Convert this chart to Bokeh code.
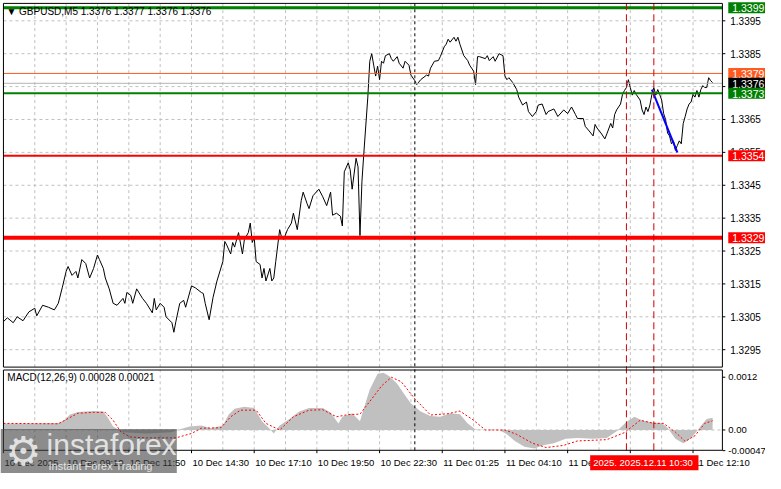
from bokeh.plotting import figure
from bokeh.models import Range1d, Label, BoxAnnotation
from bokeh.core.properties import value
from bokeh.embed import file_html
from bokeh.resources import INLINE

# ---------------- data ----------------
bar_idx = [0, 2, 5, 7, 10, 13, 16, 17, 20, 23, 26, 28, 30, 32, 33, 35, 37, 38, 40, 42, 44, 46, 48, 49,
           51, 52, 54, 56, 58, 61, 62, 63, 65, 66, 68, 71, 73, 76, 77, 78, 80, 82, 83, 86, 87, 88, 90,
           92, 93, 96, 98, 101, 102, 103, 105, 107, 109, 112, 113, 114, 116, 117, 118, 120, 122, 123,
           125, 126, 127, 128, 129, 131, 132, 133, 134, 136, 137, 138, 139, 141, 142, 143, 145, 147,
           148, 150, 152, 153, 155, 156, 158, 161, 163, 165, 167, 168, 170, 172, 173, 174, 176, 177,
           178, 180, 181, 182, 183, 184, 186, 187, 188, 189, 190, 191, 192, 193, 194, 195, 197, 198,
           199, 201, 202, 204, 205, 207, 208, 210, 211, 213, 216, 217, 218, 220, 222, 223, 225, 226,
           227, 228, 230, 231, 232, 233, 235, 237, 238, 240, 241, 242, 243, 246, 247, 248, 250, 251,
           253, 255, 256, 257, 258, 260, 262, 263, 265, 267, 268, 270, 272, 273, 275, 277, 278, 281,
           283, 286, 288, 290, 292, 293, 296, 297, 299, 301, 302, 303, 305, 307, 308, 310, 311, 312,
           313, 315, 316, 317, 318, 319, 320, 321, 322, 323, 325, 326, 327, 328, 329, 330, 331, 332,
           333, 334, 335, 336, 337, 338, 339, 340, 341, 342, 343, 344, 345, 346, 347, 348, 349, 350,
           351, 352, 353, 354, 355, 356, 357, 358, 359, 360, 361, 362]
close = [1.33035, 1.33047, 1.33032, 1.33050, 1.33038, 1.33065, 1.33076, 1.33053, 1.33085, 1.33079,
         1.33071, 1.33091, 1.33138, 1.33188, 1.33203, 1.33176, 1.33188, 1.33168, 1.33224, 1.33212,
         1.33168, 1.33197, 1.33238, 1.33224, 1.33197, 1.33168, 1.33135, 1.33091, 1.33085, 1.33106,
         1.33091, 1.33124, 1.33115, 1.33091, 1.33135, 1.33106, 1.33091, 1.33062, 1.33106, 1.33071,
         1.33091, 1.33079, 1.33050, 1.33032, 1.33003, 1.33035, 1.33091, 1.33100, 1.33079, 1.33144,
         1.33138, 1.33124, 1.33121, 1.33091, 1.33041, 1.33109, 1.33159, 1.33218, 1.33279, 1.33268,
         1.33241, 1.33276, 1.33262, 1.33306, 1.33241, 1.33285, 1.33306, 1.33335, 1.33276, 1.33291,
         1.33218, 1.33209, 1.33168, 1.33197, 1.33159, 1.33197, 1.33159, 1.33168, 1.33218, 1.33315,
         1.33291, 1.33285, 1.33315, 1.33335, 1.33365, 1.33315, 1.33403, 1.33429, 1.33394, 1.33379,
         1.33418, 1.33438, 1.33415, 1.33388, 1.33429, 1.33359, 1.33365, 1.33356, 1.33326, 1.33491,
         1.33518, 1.33497, 1.33438, 1.33532, 1.33506, 1.33297, 1.33462, 1.33550, 1.33718, 1.33827,
         1.33850, 1.33815, 1.33782, 1.33812, 1.33771, 1.33827, 1.33821, 1.33844, 1.33850, 1.33835,
         1.33827, 1.33841, 1.33821, 1.33806, 1.33827, 1.33815, 1.33785, 1.33768, 1.33756, 1.33771,
         1.33785, 1.33782, 1.33806, 1.33827, 1.33829, 1.33841, 1.33871, 1.33879, 1.33894, 1.33885,
         1.33900, 1.33888, 1.33900, 1.33879, 1.33844, 1.33829, 1.33815, 1.33797, 1.33756, 1.33841,
         1.33841, 1.33835, 1.33844, 1.33829, 1.33841, 1.33827, 1.33850, 1.33844, 1.33782, 1.33771,
         1.33777, 1.33762, 1.33741, 1.33718, 1.33694, 1.33703, 1.33674, 1.33659, 1.33674, 1.33694,
         1.33697, 1.33665, 1.33674, 1.33682, 1.33659, 1.33679, 1.33668, 1.33688, 1.33665, 1.33653,
         1.33653, 1.33629, 1.33615, 1.33600, 1.33635, 1.33624, 1.33609, 1.33591, 1.33606, 1.33638,
         1.33624, 1.33665, 1.33679, 1.33697, 1.33726, 1.33738, 1.33747, 1.33771, 1.33747, 1.33724,
         1.33738, 1.33726, 1.33709, 1.33679, 1.33665, 1.33688, 1.33674, 1.33694, 1.33726, 1.33747,
         1.33724, 1.33741, 1.33726, 1.33709, 1.33668, 1.33650, 1.33609, 1.33600, 1.33576, 1.33585,
         1.33556, 1.33571, 1.33585, 1.33576, 1.33638, 1.33659, 1.33682, 1.33697, 1.33703, 1.33726,
         1.33718, 1.33738, 1.33718, 1.33741, 1.33753, 1.33747, 1.33747, 1.33777, 1.33768, 1.33762]

macd_bars = [0, 13, 28, 31, 34, 38, 46, 51, 53, 56, 61, 73, 86, 91, 95, 101, 106, 112, 115, 118,
             123, 128, 132, 136, 138, 141, 146, 151, 156, 163, 167, 171, 173, 178, 182, 184, 187,
             191, 194, 197, 201, 204, 208, 213, 218, 223, 228, 233, 237, 241, 248, 253, 257, 261,
             266, 271, 276, 281, 287, 293, 301, 308, 313, 318, 322, 326, 331, 336, 339, 343, 347,
             350, 353, 357, 359, 362]
macd_vals = [0.00015, 0.00015, 0.00016, 0.00022, 0.00035, 0.00041, 0.00043, 0.00042, 0.00030,
             0.00008, -0.00005, -0.00008, -0.00005, 0.00003, 0.00008, 0.00010, 0.00004, 0.00010,
             0.00035, 0.00048, 0.00053, 0.00050, 0.00020, 0.00002, -0.00008, 0.00010, 0.00025,
             0.00042, 0.00050, 0.00050, 0.00040, 0.00015, 0.00030, 0.00038, 0.00020, 0.00050,
             0.00092, 0.00128, 0.00130, 0.00122, 0.00105, 0.00085, 0.00060, 0.00042, 0.00032,
             0.00030, 0.00038, 0.00036, 0.00015, 0.00001, 0.00000, 0.00000, -0.00010, -0.00025,
             -0.00038, -0.00042, -0.00034, -0.00030, -0.00020, -0.00018, -0.00020, -0.00018,
             -0.00003, 0.00018, 0.00030, 0.00022, 0.00017, 0.00016, 0.00005, -0.00020, -0.00030,
             -0.00022, -0.00008, 0.00015, 0.00025, 0.00028]

signal_bars = [0, 28, 33, 38, 46, 52, 56, 60, 65, 73, 88, 96, 101, 111, 116, 121, 129, 134, 141,
               148, 156, 163, 170, 176, 182, 187, 193, 198, 203, 210, 218, 227, 233, 240, 246, 256,
               262, 270, 277, 286, 293, 308, 317, 325, 332, 337, 343, 348, 353, 358, 362]
signal_vals = [0.00015, 0.00014, 0.00026, 0.00038, 0.00040, 0.00040, 0.00022, -0.00005, -0.00016,
               -0.00018, -0.00018, -0.00008, 0.00004, 0.00005, 0.00030, 0.00045, 0.00045, 0.00015,
               0.00000, 0.00030, 0.00045, 0.00046, 0.00030, 0.00035, 0.00036, 0.00065, 0.00100,
               0.00120, 0.00110, 0.00071, 0.00034, 0.00037, 0.00043, 0.00022, 0.00000, 0.00000,
               -0.00010, -0.00030, -0.00040, -0.00035, -0.00025, -0.00022, -0.00006, 0.00022,
               0.00015, 0.00015, -0.00005, -0.00026, -0.00013, 0.00015, 0.00021]

trend_bars = [331, 344]
trend_prices = [1.33741, 1.33550]

price_ticks = [1.3295, 1.3305, 1.3315, 1.3325, 1.3335, 1.3345, 1.3355, 1.3365, 1.3375, 1.3385, 1.3395]
macd_ticks = [0.0012, 0.0, -0.00047]
macd_tick_labels = ["0.0012", "0.00", "-0.00047"]

label_bars = [0, 32, 64, 96, 128, 160, 192, 224, 256, 288, 320, 352]
time_labels = ["10 Dec 2025", "10 Dec 09:10", "10 Dec 11:50", "10 Dec 14:30", "10 Dec 17:10",
               "10 Dec 19:50", "10 Dec 22:30", "11 Dec 01:25", "11 Dec 04:10", "11 Dec 06:50",
               "11 Dec 09:30", "11 Dec 12:10"]
grid_bars = [16, 32, 48, 64, 80, 96, 112, 128, 144, 160, 176, 192, 208, 224, 240, 256, 272, 288,
             304, 320, 336, 352]

level_prices = [1.3399, 1.3379, 1.3376, 1.3373, 1.3354, 1.3329]
level_labels = ["1.3399", "1.3379", "1.3376", "1.3373", "1.3354", "1.3329"]
level_colors = ["#008000", "#ff5a1f", "#b4b4b4", "#008000", "#ff0000", "#ff0000"]
level_box_colors = ["#008000", "#ff5a1f", "#000000", "#008000", "#ff0000", "#ff0000"]
level_widths = [3, 1, 1, 2, 2, 4]

event_bars = [210, 318, 332]
event_colors = ["#000000", "#cc0000", "#cc0000"]
event_dash = ["3 3", "7 4", "7 4"]

header_text = "\u25bc GBPUSD,M5  1.3376 1.3377 1.3376 1.3376"
macd_title = "MACD(12,26,9) 0.00028 0.00021"
time_box_text = "2025.  2025.12.11 10:30"

# ---------------- layout helpers (reference pixel -> data) ----------------
K = 2.2e-5


def bx(px):
    return (px - 3) / 2.0


def py(px):
    return 1.3395 - (px - 21) / 34000.0


def m_at(px):
    return (444 - px) * K


def m_to_p(m):
    return py(444 - m / K)


FONT = "Liberation Sans"
GRID = "#c0c0c0"

p = figure(width=765, height=473, output_backend="svg", toolbar_location=None,
           x_range=Range1d(bx(0), bx(781)), y_range=Range1d(py(489), py(0)),
           x_axis_location=None, y_axis_location=None,
           min_border_left=0, min_border_right=0, min_border_top=0, min_border_bottom=0,
           background_fill_color="white", border_fill_color="white", outline_line_color=None)
p.extra_y_ranges = {"macd": Range1d(m_at(489), m_at(0))}
p.grid.visible = False

L, R = bx(3), bx(737)
MT, MB = py(3), py(379)          # main panel top / bottom
IT, IB = py(382), py(465)        # indicator panel top / bottom

# grid lines
p.segment(x0=L, x1=R, y0=price_ticks, y1=price_ticks, line_color=GRID, line_dash="3 3")
p.segment(x0=grid_bars, x1=grid_bars, y0=MB, y1=MT, line_color=GRID, line_dash="3 3")
p.segment(x0=grid_bars, x1=grid_bars, y0=IB, y1=IT, line_color=GRID, line_dash="3 3")
p.segment(x0=L, x1=R, y0=m_to_p(0.0), y1=m_to_p(0.0), line_color=GRID, line_dash="3 3")

# MACD panel
p.varea(x=macd_bars, y1=0, y2=macd_vals, y_range_name="macd", fill_color="#c0c0c0")
p.line(signal_bars, signal_vals, y_range_name="macd", line_color="#ff0000",
       line_dash="2 2", line_width=1)

# price
p.line(bar_idx, close, line_color="black", line_width=1)
p.line(trend_bars, trend_prices, line_color="#0000ff", line_width=2)

# level lines
p.segment(x0=L, x1=R, y0=level_prices, y1=level_prices, line_color=level_colors,
          line_width=level_widths)

# event vertical lines
for eb, ec, ed in zip(event_bars, event_colors, event_dash):
    p.segment(x0=eb, x1=eb, y0=IB, y1=MT, line_color=ec, line_dash=ed, line_width=1)

# panel borders
p.quad(left=L, right=R, top=MT, bottom=MB, fill_alpha=0, line_color="black", line_width=1)
p.quad(left=L, right=R, top=IT, bottom=IB, fill_alpha=0, line_color="black", line_width=1)

# right price scale: ticks + labels
p.segment(x0=R, x1=bx(740), y0=price_ticks, y1=price_ticks, line_color="black")
p.text(x=bx(745), y=price_ticks, text=["%.4f" % t for t in price_ticks],
       text_font=value(FONT), text_font_size="10px", text_color="black",
       text_baseline="middle", text_align="left")
macd_tick_pos = [m_to_p(m) for m in macd_ticks]
p.segment(x0=R, x1=bx(740), y0=macd_tick_pos, y1=macd_tick_pos, line_color="black")
p.text(x=bx(743), y=macd_tick_pos, text=macd_tick_labels,
       text_font=value(FONT), text_font_size="9.5px", text_color="black",
       text_baseline="middle", text_align="left")

# time scale: ticks + labels
p.segment(x0=label_bars, x1=label_bars, y0=IB, y1=py(468), line_color="black")
p.text(x=[b + 0.5 for b in label_bars], y=py(478), text=time_labels,
       text_font=value(FONT), text_font_size="9.5px", text_color="black",
       text_baseline="middle", text_align="left")

# right level boxes
for lp, lt, bc in zip(level_prices, level_labels, level_box_colors):
    p.add_layout(Label(x=bx(743), y=lp, text=lt, text_font=FONT, text_font_size="10.5px",
                       text_color="white", text_baseline="middle", text_align="left",
                       background_fill_color=bc, background_fill_alpha=1,
                       padding=dict(left=4, right=12, top=2, bottom=1)))

# titles
p.add_layout(Label(x=bx(6), y=py(11), text=header_text, text_font=FONT, text_font_size="10px",
                   text_color="black", text_baseline="middle", text_align="left"))
p.add_layout(Label(x=bx(7), y=py(390), text=macd_title, text_font=FONT, text_font_size="10px",
                   text_color="black", text_baseline="middle", text_align="left"))

# red time box
p.add_layout(Label(x=bx(602), y=py(478), text=time_box_text, text_font=FONT,
                   text_font_size="9.5px", text_color="white", text_baseline="middle",
                   text_align="left", background_fill_color="#ff0000", background_fill_alpha=1,
                   padding=dict(left=3, right=3, top=2, bottom=2)))

# watermark
p.add_layout(BoxAnnotation(left=bx(0), right=bx(180), top=py(443), bottom=py(489),
                           fill_color="#404040", fill_alpha=0.6, line_alpha=0))
p.add_layout(Label(x=bx(5), y=py(466), text="\u2699", text_font="DejaVu Sans",
                   text_font_size="40px", text_color="#eeeeee", text_alpha=0.9,
                   text_baseline="middle", text_align="left"))
p.add_layout(Label(x=bx(47), y=py(459), text="instaforex", text_font=FONT,
                   text_font_size="30px", text_color="#eeeeee", text_alpha=0.9,
                   text_baseline="middle", text_align="left"))
p.add_layout(Label(x=bx(49), y=py(481), text="Instant Forex Trading", text_font=FONT,
                   text_font_size="11px", text_color="#eeeeee", text_alpha=0.9,
                   text_baseline="middle", text_align="left"))

open("out.html", "w").write(file_html(p, INLINE))
